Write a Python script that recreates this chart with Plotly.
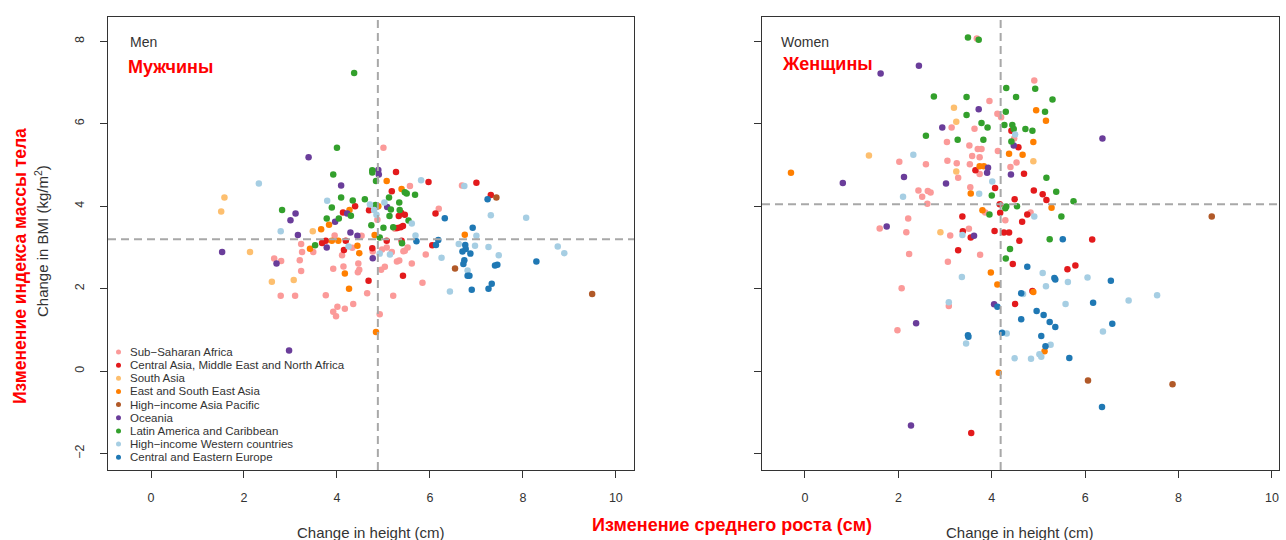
import plotly.graph_objects as go

W, H = 1286, 540

groups = ["Sub\u2212Saharan Africa", "Central Asia, Middle East and North Africa", "South Asia",
          "East and South East Asia", "High\u2212income Asia Pacific", "Oceania",
          "Latin America and Caribbean", "High\u2212income Western countries", "Central and Eastern Europe"]
colors = ["#FB9A99", "#E31A1C", "#FDBF6F", "#FF7F00", "#B15928", "#6A3D9A", "#33A02C", "#A6CEE3", "#1F78B4"]

# ---------------- Men: change in height (cm) / change in BMI ----------------
men_ssa_h = [5.0, 5.57, 4.87, 5.25, 3.95, 4.53, 3.23, 3.49, 3.25, 4.33, 5.07, 4.97, 5.18, 5.43, 5.52, 4.11, 2.65, 2.80,
             3.20, 3.23, 3.92, 4.14, 4.46, 4.48, 4.45, 4.95, 5.03, 5.29, 5.34, 5.61, 5.91, 6.19, 5.84, 2.79, 3.10, 3.76,
             4.65, 5.21, 4.35, 4.01, 4.17, 3.92, 3.98, 4.92, 6.69, 4.77, 5.46]
men_ssa_b = [5.42, 4.49, 3.67, 3.45, 3.29, 3.28, 3.08, 2.89, 2.89, 2.99, 3.0, 2.95, 2.89, 2.91, 3.0, 2.81, 2.73, 2.67,
             2.69, 2.43, 2.48, 2.54, 2.61, 2.46, 2.40, 2.46, 2.53, 2.66, 2.68, 2.61, 2.83, 3.94, 2.14, 1.83, 1.83, 1.84,
             1.89, 1.83, 1.63, 1.56, 1.51, 1.44, 1.33, 1.38, 4.50, 2.90, 2.92]
men_cam_h = [5.27, 5.97, 5.18, 4.39, 4.13, 4.69, 5.38, 5.46, 5.33, 5.37, 5.42, 5.07, 5.39, 4.19, 3.76, 3.68, 4.15, 4.76,
             5.42, 6.05, 6.12, 4.68, 7.0, 7.31, 5.30]
men_cam_b = [4.83, 4.59, 4.36, 4.0, 3.85, 3.90, 3.84, 3.79, 3.76, 3.49, 3.52, 3.16, 3.16, 3.16, 3.16, 3.11, 2.94, 2.98,
             2.31, 3.05, 3.82, 2.19, 4.57, 4.27, 3.47]
men_sa_h = [1.58, 1.51, 3.48, 2.60, 3.07, 2.13]
men_sa_b = [4.21, 3.87, 3.39, 2.17, 2.21, 2.89]
men_esea_h = [3.66, 3.83, 4.27, 5.07, 5.39, 4.89, 4.81, 4.03, 3.89, 3.42, 4.44, 4.48, 4.17, 4.26, 4.84, 6.75]
men_esea_b = [3.44, 3.55, 3.91, 4.61, 4.42, 4.0, 3.30, 3.16, 3.16, 2.97, 3.04, 2.86, 2.37, 2.0, 0.95, 3.31]
men_hiap_h = [7.43, 6.54, 9.49]
men_hiap_b = [4.21, 2.49, 1.87]
men_oce_h = [3.39, 3.11, 3.0, 3.16, 4.09, 4.22, 3.96, 4.89, 4.90, 5.08, 4.29, 4.44, 3.78, 4.77, 2.70, 2.97, 1.53]
men_oce_b = [5.19, 3.82, 3.66, 3.30, 4.50, 3.82, 3.62, 4.88, 4.77, 3.98, 3.36, 3.28, 3.00, 2.74, 2.61, 0.50, 2.89]
men_lac_h = [4.37, 4.0, 3.92, 4.76, 4.76, 4.84, 5.46, 5.50, 5.68, 5.12, 4.09, 4.34, 4.60, 3.89, 2.82, 4.83, 5.16, 5.34,
             5.35, 5.13, 5.54, 3.78, 4.04, 4.30, 4.74, 5.0, 5.21, 4.92, 3.53, 5.40]
men_lac_b = [7.23, 5.42, 4.77, 4.87, 4.82, 4.61, 4.34, 4.31, 4.28, 4.21, 4.21, 4.14, 4.17, 3.97, 3.91, 4.03, 3.92, 4.09,
             3.91, 3.76, 3.65, 3.70, 3.70, 3.77, 3.54, 3.48, 3.49, 3.24, 3.05, 3.10]
men_hiw_h = [2.32, 2.79, 3.79, 5.81, 4.71, 4.80, 4.85, 5.61, 5.69, 4.25, 4.92, 5.14, 6.25, 6.43, 6.74, 7.31, 8.07, 7.0,
             6.62, 6.97, 7.26, 7.48, 6.81, 8.75, 8.89, 5.02]
men_hiw_b = [4.55, 3.39, 4.13, 4.63, 4.04, 3.91, 3.79, 3.58, 3.29, 3.02, 2.85, 2.83, 2.75, 1.93, 4.49, 3.78, 3.72, 3.28,
             3.08, 3.04, 3.01, 2.81, 2.44, 3.02, 2.86, 4.09]
men_cee_h = [7.24, 6.32, 6.92, 5.71, 6.18, 6.13, 6.76, 6.77, 6.70, 6.87, 6.74, 6.72, 7.40, 7.45, 6.81, 6.85, 6.90, 7.26,
             7.33, 8.29]
men_cee_b = [4.17, 3.71, 3.48, 3.15, 3.18, 3.06, 3.06, 2.96, 2.90, 2.85, 2.69, 2.60, 2.56, 2.58, 2.31, 2.31, 1.97, 2.0,
             2.12, 2.66]

# ---------------- Women ----------------
wom_ssa_h = [3.68, 3.95, 4.12, 4.20, 3.14, 3.63, 3.04, 3.70, 3.78, 3.52, 4.48, 4.13, 3.58, 3.74, 2.02, 2.59, 3.05, 3.25,
             3.53, 3.74, 4.40, 4.53, 3.28, 3.54, 2.43, 2.63, 2.69, 2.51, 2.62, 3.86, 4.29, 2.21, 1.60, 2.17, 3.11, 3.51,
             2.23, 3.06, 3.75, 2.07, 3.08, 1.98, 4.91, 4.83]
wom_ssa_b = [8.07, 6.55, 6.24, 6.16, 5.91, 5.88, 5.56, 5.39, 5.39, 5.47, 5.64, 5.34, 5.22, 5.19, 5.08, 5.02, 5.10, 5.04,
             5.02, 4.78, 4.95, 5.06, 4.69, 4.46, 4.38, 4.37, 4.33, 4.23, 4.06, 3.85, 3.66, 3.70, 3.46, 3.37, 3.29, 3.45,
             2.84, 2.65, 2.82, 2.01, 1.58, 0.99, 7.05, 3.85]
wom_cam_h = [4.42, 4.57, 3.65, 4.07, 4.49, 4.17, 4.18, 3.37, 3.38, 4.06, 4.26, 4.37, 3.28, 4.59, 4.45, 4.50, 3.56, 4.69,
             4.90, 5.09, 5.17, 4.76, 4.65, 6.15, 5.62, 5.79, 4.87, 3.55]
wom_cam_b = [5.83, 5.43, 4.87, 4.44, 4.17, 4.05, 3.84, 3.75, 3.39, 3.40, 3.36, 3.36, 2.93, 3.16, 2.60, 1.63, -1.50, 4.79,
             4.38, 4.29, 4.15, 3.80, 3.62, 3.19, 2.47, 2.56, 1.94, 3.24]
wom_sa_h = [3.19, 3.24, 1.37, 3.24, 2.90, 4.89]
wom_sa_b = [6.39, 6.05, 5.23, 4.84, 3.37, 5.09]
wom_esea_h = [4.37, 3.74, 3.83, -0.30, 3.55, 3.80, 3.98, 4.12, 4.15, 4.95, 5.16, 4.89, 4.66, 5.28, 4.89, 5.13]
wom_esea_b = [5.27, 4.97, 4.97, 4.81, 4.31, 3.90, 2.39, 2.10, -0.04, 6.33, 6.07, 5.56, 5.25, 3.96, 1.92, 0.48]
wom_hiap_h = [8.71, 6.06, 7.87]
wom_hiap_b = [3.75, -0.23, -0.32]
wom_oce_h = [2.44, 1.62, 3.72, 2.94, 4.47, 3.92, 3.90, 0.81, 2.12, 3.02, 4.41, 1.75, 3.62, 4.05, 2.38, 2.27, 6.37]
wom_oce_b = [7.41, 7.22, 6.35, 5.91, 5.47, 4.93, 4.81, 4.56, 4.71, 4.55, 4.77, 3.51, 3.28, 1.62, 1.16, -1.32, 5.64]
wom_lac_h = [3.49, 3.72, 4.31, 4.52, 2.76, 3.46, 3.46, 4.30, 3.78, 3.91, 4.27, 4.44, 4.47, 2.59, 3.27, 3.82, 4.42, 4.0,
             4.31, 4.29, 4.54, 3.95, 4.39, 4.30, 4.93, 5.30, 5.14, 4.72, 4.87, 5.17, 5.38, 5.75, 5.49, 5.24]
wom_lac_b = [8.09, 8.04, 6.87, 6.65, 6.66, 6.65, 6.21, 6.29, 6.02, 5.91, 5.97, 5.97, 5.87, 5.71, 5.61, 5.61, 5.57, 4.26,
             3.99, 3.95, 4.0, 3.80, 2.96, 2.73, 6.85, 6.59, 6.29, 5.87, 5.83, 4.69, 4.35, 4.12, 3.75, 3.20]
wom_hiw_h = [2.32, 4.01, 2.10, 3.73, 3.37, 3.36, 3.08, 3.45, 4.32, 4.49, 4.50, 4.91, 5.09, 5.63, 6.05, 5.16, 4.67, 7.54,
             6.93, 5.58, 6.38, 5.26, 5.02, 5.06, 4.84]
wom_hiw_b = [5.25, 4.60, 4.23, 4.30, 3.30, 2.28, 1.67, 0.67, 0.91, 0.31, 5.74, 3.75, 2.38, 2.16, 2.27, 2.06, 1.87, 1.84,
             1.71, 1.63, 0.96, 0.64, 0.41, 0.35, 0.30]
wom_cee_h = [4.12, 3.49, 3.50, 4.22, 5.52, 4.76, 5.34, 5.36, 6.55, 4.63, 6.17, 4.96, 5.11, 5.24, 5.36, 6.58, 4.63, 5.06,
             5.15, 5.66, 6.36]
wom_cee_b = [1.56, 0.87, 0.83, 0.93, 3.20, 2.53, 2.26, 2.22, 2.19, 1.89, 1.66, 1.46, 1.36, 1.19, 1.07, 1.15, 1.26, 0.85,
             0.60, 0.32, -0.87]

# mean reference lines
men_mean_height, men_mean_bmi = 4.88, 3.20
wom_mean_height, wom_mean_bmi = 4.19, 4.05

x_ticks = [0, 2, 4, 6, 8, 10]
y_ticks = [-2, 0, 2, 4, 6, 8]

men = [(men_ssa_h, men_ssa_b), (men_cam_h, men_cam_b), (men_sa_h, men_sa_b), (men_esea_h, men_esea_b),
       (men_hiap_h, men_hiap_b), (men_oce_h, men_oce_b), (men_lac_h, men_lac_b), (men_hiw_h, men_hiw_b),
       (men_cee_h, men_cee_b)]
wom = [(wom_ssa_h, wom_ssa_b), (wom_cam_h, wom_cam_b), (wom_sa_h, wom_sa_b), (wom_esea_h, wom_esea_b),
       (wom_hiap_h, wom_hiap_b), (wom_oce_h, wom_oce_b), (wom_lac_h, wom_lac_b), (wom_hiw_h, wom_hiw_b),
       (wom_cee_h, wom_cee_b)]

fig = go.Figure()
for i, (hx, by) in enumerate(men):
    fig.add_trace(go.Scatter(x=hx, y=by, mode="markers", name=groups[i], showlegend=False,
                             marker=dict(color=colors[i], size=6.5, line=dict(width=0)), xaxis="x", yaxis="y"))
for i, (hx, by) in enumerate(wom):
    fig.add_trace(go.Scatter(x=hx, y=by, mode="markers", name=groups[i], showlegend=False,
                             marker=dict(color=colors[i], size=6.5, line=dict(width=0)), xaxis="x2", yaxis="y2"))

def px_x(p):
    return p / W

def px_y(p):
    return 1 - p / H

tickfont = dict(family="Liberation Sans, Arial", size=12.5, color="#333")
axis_common = dict(showgrid=False, zeroline=False, showline=True, mirror=True, linecolor="#333", linewidth=1,
                   ticks="outside", ticklen=7, tickcolor="#333", tickfont=tickfont)

fig.update_layout(
    width=W, height=H, margin=dict(l=0, r=0, t=0, b=0),
    paper_bgcolor="white", plot_bgcolor="white",
    font=dict(family="Liberation Sans, Arial", color="#333"),
    xaxis=dict(domain=[px_x(108), px_x(634)], range=[-0.925, 10.39], tickvals=x_ticks, anchor="y",
               ticklabelstandoff=9, **axis_common),
    yaxis=dict(domain=[px_y(470), px_y(17)], range=[-2.40, 8.59], tickvals=y_ticks, anchor="x",
               tickangle=-90, ticklabelstandoff=11, **axis_common),
    xaxis2=dict(domain=[px_x(762), px_x(1279)], range=[-0.92, 10.15], tickvals=x_ticks, anchor="y2",
                ticklabelstandoff=9, **axis_common),
    yaxis2=dict(domain=[px_y(470), px_y(17)], range=[-2.40, 8.59], tickvals=y_ticks, anchor="x2",
                showticklabels=False, **axis_common),
)

dash_line = dict(color="#A8A8A8", width=2, dash="8px,5px")
fig.add_shape(type="line", xref="x", yref="y domain", x0=men_mean_height, x1=men_mean_height, y0=0, y1=1, line=dash_line)
fig.add_shape(type="line", xref="x domain", yref="y", x0=0, x1=1, y0=men_mean_bmi, y1=men_mean_bmi, line=dash_line)
fig.add_shape(type="line", xref="x2", yref="y2 domain", x0=wom_mean_height, x1=wom_mean_height, y0=0, y1=1, line=dash_line)
fig.add_shape(type="line", xref="x2 domain", yref="y2", x0=0, x1=1, y0=wom_mean_bmi, y1=wom_mean_bmi, line=dash_line)

ann = []
def text(x, y, s, size, color="#333", bold=False, angle=0, xanchor="center"):
    ann.append(dict(x=px_x(x), y=px_y(y), xref="paper", yref="paper", text=("<b>%s</b>" % s) if bold else s,
                    showarrow=False, textangle=angle, xanchor=xanchor, yanchor="middle",
                    font=dict(family="Liberation Sans, Arial", size=size, color=color)))

text(128, 42, "Men", 14, xanchor="left")
text(126, 67, "Мужчины", 18, color="red", bold=True, xanchor="left")
text(779, 42, "Women", 14, xanchor="left")
text(780, 64, "Женщины", 18, color="red", bold=True, xanchor="left")
text(41, 241, "Change in BMI (kg/m<sup>2</sup>)", 15, angle=-90)
text(20, 266, "Изменение индекса массы тела", 17.5, color="red", bold=True, angle=-90)
text(371, 532, "Change in height (cm)", 15)
text(1020, 532, "Change in height (cm)", 15)
text(732, 525, "Изменение среднего роста (см)", 18, color="red", bold=True)

# legend (inside men panel)
row0, step = 352, 13.15
for i, g in enumerate(groups):
    yc = row0 + i * step
    fig.add_shape(type="circle", xref="paper", yref="paper",
                  x0=px_x(116), x1=px_x(121), y0=px_y(yc + 2.5), y1=px_y(yc - 2.5),
                  fillcolor=colors[i], line=dict(width=0))
    text(128, yc, g, 11.5, xanchor="left")

fig.update_layout(annotations=ann)
fig.write_html("out.html", config={"displayModeBar": False},
               post_script="document.body.style.margin='0';document.body.style.overflow='hidden';")
